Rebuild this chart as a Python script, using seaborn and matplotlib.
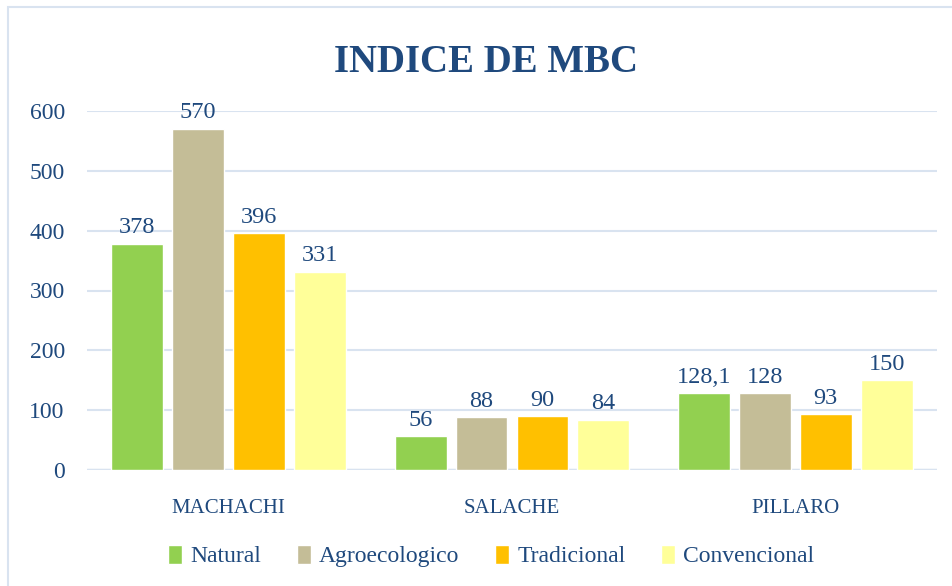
import matplotlib
matplotlib.use("Agg")
import matplotlib.pyplot as plt
import pandas as pd
import seaborn as sns
from matplotlib.patches import Rectangle

# Data
sitios = ["MACHACHI", "SALACHE", "PILLARO"]
sistemas = ["Natural", "Agroecologico", "Tradicional", "Convencional"]
natural = [378, 56, 128.1]
agroecologico = [570, 88, 128]
tradicional = [396, 90, 93]
convencional = [331, 84, 150]
etiquetas = [["378", "56", "128,1"], ["570", "88", "128"],
             ["396", "90", "93"], ["331", "84", "150"]]
colores = ["#92D050", "#C4BD97", "#FFC000", "#FFFF99"]

rows = []
for sis, vals in zip(sistemas, [natural, agroecologico, tradicional, convencional]):
    for sit, v in zip(sitios, vals):
        rows.append({"sitio": sit, "sistema": sis, "valor": v})
df = pd.DataFrame(rows)

sns.set_theme(style="white")
plt.rcParams["font.family"] = ["Liberation Serif", "DejaVu Serif"]
txt = "#1F497D"
grid_c = "#D9E3F0"

fig = plt.figure(figsize=(9.52, 5.86), dpi=100)
ax = fig.add_axes([87 / 952, 1 - 470 / 586, 850 / 952, 359 / 586])

sns.barplot(data=df, x="sitio", y="valor", hue="sistema", order=sitios,
            hue_order=sistemas, palette=colores, width=0.86, gap=0.15,
            saturation=1, ax=ax, legend=True)

ax.set_ylim(0, 600)
ax.set_xlim(-0.5, 2.5)
ax.set_yticks(range(0, 601, 100))
ax.yaxis.grid(True, color=grid_c, linewidth=1.5)
ax.set_axisbelow(True)
for s in ax.spines.values():
    s.set_visible(False)
ax.axhline(0, color=grid_c, linewidth=2.5, zorder=0.5)
ax.set_xlabel("")
ax.set_ylabel("")
ax.tick_params(axis="y", labelsize=17, labelcolor=txt, pad=16, length=0)
ax.tick_params(axis="x", labelsize=15, labelcolor=txt, pad=21, length=0)
for lab in ax.get_yticklabels():
    lab.set_verticalalignment("center_baseline")

for cont, labs in zip(ax.containers, etiquetas):
    ax.bar_label(cont, labels=labs, padding=4, fontsize=17.5, color=txt,
                 clip_on=False)

handles, labels = ax.get_legend_handles_labels()
ax.legend(handles, labels, loc="center", bbox_to_anchor=(0.516, 0.051),
          bbox_transform=fig.transFigure, ncol=4, frameon=False,
          fontsize=17, labelcolor=txt, handlelength=0.6, handleheight=0.85,
          handletextpad=0.35, columnspacing=1.5)

fig.text(0.511, 1 - 62 / 586, "INDICE DE MBC", ha="center", va="center",
         fontsize=28, fontweight="bold", color=txt)

# frame of the chart area (cropped on the right and bottom)
fig.patches.append(Rectangle((8 / 952, -0.05), 1.2, 1 - 7 / 586 + 0.05,
                             transform=fig.transFigure, fill=False,
                             edgecolor=grid_c, linewidth=1.5))

fig.savefig("out.png", dpi=100)
